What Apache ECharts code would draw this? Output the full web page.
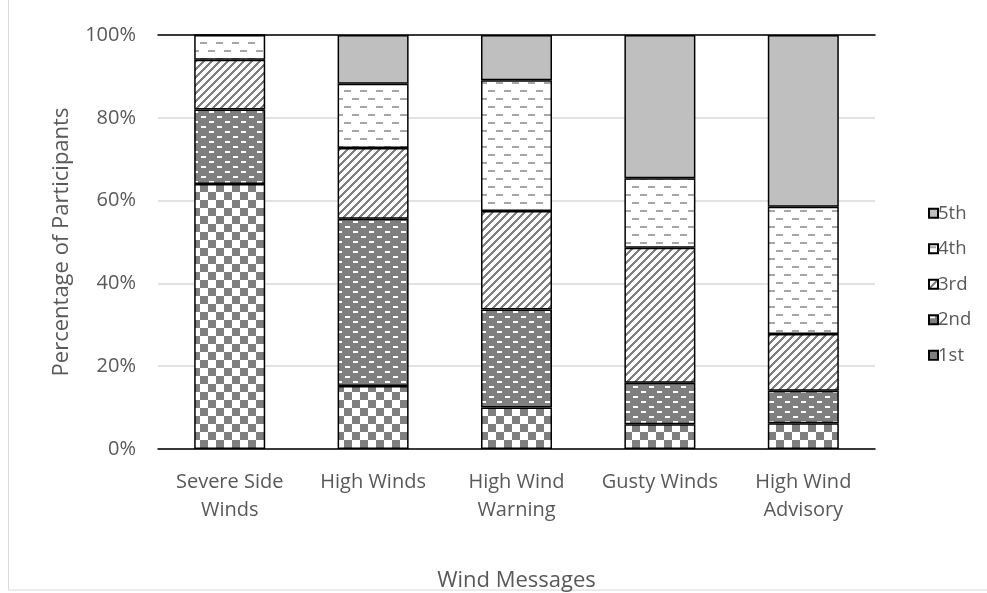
<!DOCTYPE html>
<html>
<head>
<meta charset="utf-8">
<style>
  html, body { margin: 0; padding: 0; background: #fff; }
  #chart { width: 987px; height: 593px; }
</style>
<script src="https://cdn.jsdelivr.net/npm/echarts@6/dist/echarts.min.js"></script>
</head>
<body>
<div id="chart"></div>
<script>
// Ranking of wind messages: share of participants giving each rank
const categories = ['Severe Side\nWinds', 'High Winds', 'High Wind\nWarning', 'Gusty Winds', 'High Wind\nAdvisory'];
const rank1 = [64.0, 15.2, 10.0, 6.0, 6.2];
const rank2 = [18.0, 40.4, 23.7, 10.0, 7.9];
const rank3 = [12.0, 17.1, 23.8, 32.6, 13.7];
const rank4 = [6.0, 15.5, 31.6, 16.8, 30.7];
const rank5 = [0.0, 11.8, 10.9, 34.6, 41.5];
const rankNames = ['1st', '2nd', '3rd', '4th', '5th'];
const yTicks = [0, 20, 40, 60, 80, 100];

const FONT = '"Open Sans", Lato, sans-serif';
const TEXT = '#595959';
const GRAY = '#7f7f7f';

function tile(w, h, draw) {
  const c = document.createElement('canvas');
  c.width = w; c.height = h;
  const g = c.getContext('2d');
  draw(g, w, h);
  return { image: c, repeat: 'repeat' };
}

// Large checkerboard
const checker = tile(16, 16, (g) => {
  g.fillStyle = '#fff'; g.fillRect(0, 0, 16, 16);
  g.fillStyle = GRAY;
  g.fillRect(0, 0, 8, 8); g.fillRect(8, 8, 8, 8);
});
// Gray field with staggered white bricks
const brick = tile(16, 10, (g) => {
  g.fillStyle = GRAY; g.fillRect(0, 0, 16, 10);
  g.fillStyle = '#fff';
  g.fillRect(1, 1, 5, 2); g.fillRect(9, 6, 5, 2);
});
// Wide upward diagonal stripes
const diag = tile(8, 8, (g) => {
  g.fillStyle = '#fff'; g.fillRect(0, 0, 8, 8);
  g.fillStyle = GRAY;
  for (let i = 0; i < 8; i++) {
    const x = 7 - i;
    g.fillRect(x, i, 3, 1);
    if (x + 3 > 8) g.fillRect(x - 8, i, 3, 1);
    if (x < 0) g.fillRect(x + 8, i, 3, 1);
  }
});
// Staggered horizontal dashes
const dashes = tile(16, 16, (g) => {
  g.fillStyle = '#fff'; g.fillRect(0, 0, 16, 16);
  g.fillStyle = '#a6a6a6';
  g.fillRect(0, 2, 7, 2); g.fillRect(8, 10, 7, 2);
});
const solid = '#bfbfbf';

const fills = [checker, brick, diag, dashes, solid];
const values = [rank1, rank2, rank3, rank4, rank5];

const series = rankNames.map((name, i) => ({
  name: name,
  type: 'bar',
  stack: 'total',
  barWidth: 71,
  data: values[i],
  itemStyle: { color: fills[i], borderColor: '#000', borderWidth: 1.5 },
  emphasis: { disabled: true }
}));

const chart = echarts.init(document.getElementById('chart'), null, { renderer: 'canvas' });
chart.setOption({
  animation: false,
  backgroundColor: '#fff',
  textStyle: { fontFamily: FONT },
  grid: { left: 158, right: 112, top: 35, bottom: 144, containLabel: false, outerBoundsMode: 'none' },
  legend: {
    orient: 'vertical',
    left: 923,
    top: 196,
    data: ['5th', '4th', '3rd', '2nd', '1st'],
    icon: 'rect',
    itemWidth: 9,
    itemHeight: 9,
    itemGap: 11,
    textStyle: { color: TEXT, fontSize: 18.5, fontFamily: FONT, padding: [0, 0, 0, -5], lineHeight: 24.5 },
    selectedMode: false
  },
  xAxis: [{
    type: 'category',
    data: categories,
    name: 'Wind Messages',
    nameLocation: 'middle',
    nameGap: 121,
    nameTextStyle: { color: TEXT, fontSize: 22, fontFamily: FONT },
    axisLine: { show: true, lineStyle: { color: '#000', width: 1.5 } },
    axisTick: { show: false },
    axisLabel: { color: TEXT, fontSize: 20, fontFamily: FONT, lineHeight: 28, margin: 19, interval: 0 }
  }, {
    type: 'category',
    position: 'top',
    data: categories,
    axisLine: { show: true, lineStyle: { color: '#000', width: 1.5 } },
    axisTick: { show: false },
    axisLabel: { show: false }
  }],
  yAxis: {
    type: 'value',
    min: yTicks[0],
    max: yTicks[yTicks.length - 1],
    interval: yTicks[1] - yTicks[0],
    name: 'Percentage of Participants',
    nameLocation: 'middle',
    nameGap: 85,
    nameTextStyle: { color: TEXT, fontSize: 22, fontFamily: FONT },
    axisLine: { show: false },
    axisTick: { show: false },
    splitLine: { lineStyle: { color: '#d9d9d9', width: 1.5 } },
    axisLabel: { color: TEXT, fontSize: 20, fontFamily: FONT, margin: 22, formatter: '{value}%' }
  },
  graphic: [{
    type: 'rect',
    shape: { x: 8.5, y: -2, width: 990, height: 592 },
    style: { fill: 'none', stroke: '#d9d9d9', lineWidth: 1 },
    silent: true
  }],
  series: series
});
</script>
</body>
</html>
